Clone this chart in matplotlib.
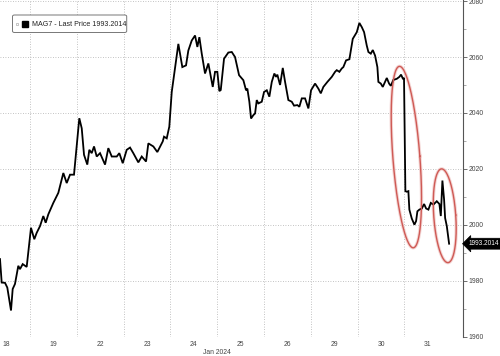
import numpy as np
import matplotlib
matplotlib.use("Agg")
import matplotlib.pyplot as plt
from matplotlib.patches import FancyBboxPatch

plt.rcParams["font.family"] = ["Liberation Sans", "DejaVu Sans"]

# ---- data (x = position in trading sessions, 0 = Jan 18 session start) ----
t = [0.359, 0.395, 0.466, 0.515, 0.594, 0.630, 0.679, 0.750, 0.786, 0.844, 0.929,
     1.021, 1.092, 1.143, 1.214, 1.284, 1.335, 1.391, 1.498, 1.605, 1.712, 1.784, 1.855, 1.940,
     2.053, 2.105, 2.154, 2.224, 2.267, 2.318, 2.368, 2.425, 2.496, 2.603, 2.673, 2.746, 2.853, 2.908, 2.981,
     3.066, 3.137, 3.207, 3.314, 3.387, 3.479, 3.528, 3.635, 3.720, 3.836, 3.863, 3.921, 3.976,
     4.028, 4.169, 4.254, 4.333, 4.382, 4.455, 4.526, 4.575, 4.618, 4.669, 4.739, 4.810, 4.904, 4.953,
     5.002, 5.045, 5.075, 5.145, 5.237, 5.310, 5.380, 5.466, 5.558, 5.615, 5.643, 5.686, 5.722, 5.771,
     5.808, 5.844, 5.878, 5.951, 6.000, 6.058, 6.113, 6.165, 6.220, 6.256, 6.284, 6.342, 6.400, 6.449,
     6.519, 6.592, 6.641, 6.712, 6.754, 6.806, 6.876, 6.947, 7.004, 7.090, 7.160, 7.212, 7.267, 7.353,
     7.447, 7.517, 7.553, 7.609, 7.660, 7.694, 7.752, 7.823, 7.895, 7.981, 8.036, 8.088, 8.137, 8.194,
     8.229, 8.280, 8.323, 8.372, 8.421, 8.442, 8.494, 8.536, 8.585, 8.622, 8.671, 8.707, 8.763, 8.835,
     8.891, 8.927, 8.964, 8.990, 9.005, 9.019, 9.049, 9.083, 9.104, 9.156, 9.212, 9.248, 9.276, 9.318,
     9.370, 9.419, 9.462, 9.511, 9.562, 9.618, 9.690, 9.746, 9.776, 9.810, 9.846, 9.868, 9.904, 9.953]
price = [1987.7, 1979.3, 1979.2, 1977.5, 1969.3, 1977.0, 1978.8, 1985.3, 1984.1, 1985.9, 1984.9,
         1998.9, 1994.8, 1997.1, 1999.5, 2003.1, 2000.7, 2003.7, 2007.8, 2011.4, 2018.5, 2014.9, 2017.9, 2017.9,
         2038.1, 2034.5, 2025.0, 2021.5, 2026.8, 2025.6, 2028.0, 2024.4, 2025.6, 2021.5, 2027.4, 2024.4, 2024.4, 2025.6, 2022.0,
         2026.8, 2027.6, 2025.6, 2022.3, 2024.4, 2022.6, 2029.1, 2028.0, 2026.0, 2029.8, 2031.5, 2030.9, 2035.1,
         2047.5, 2064.7, 2056.4, 2057.0, 2062.3, 2065.9, 2067.7, 2063.6, 2067.1, 2061.2, 2054.1, 2057.7, 2049.3, 2054.7,
         2054.7, 2047.8, 2048.2, 2059.4, 2061.6, 2061.8, 2060.0, 2053.5, 2051.7, 2048.1, 2048.7, 2044.0, 2038.0, 2039.2,
         2039.8, 2044.6, 2043.4, 2044.0, 2047.5, 2048.1, 2045.8, 2051.1, 2054.1, 2052.9, 2053.7, 2050.0, 2056.1, 2051.1,
         2044.6, 2044.0, 2042.6, 2042.8, 2042.2, 2045.2, 2045.2, 2041.6, 2048.1, 2050.5, 2048.7, 2047.0, 2049.3, 2051.1,
         2052.9, 2054.7, 2055.3, 2054.7, 2055.9, 2056.4, 2058.8, 2059.2, 2066.5, 2068.9, 2072.2, 2070.7, 2068.9, 2064.1,
         2061.8, 2061.2, 2062.5, 2060.5, 2056.4, 2051.1, 2050.5, 2049.3, 2051.1, 2052.5, 2050.5, 2049.7, 2051.8, 2052.2,
         2052.9, 2053.7, 2052.3, 2052.5, 2030.0, 2012.0, 2011.8, 2012.0, 2005.4, 2002.2, 2000.0, 2001.3, 2004.8, 2005.4,
         2005.8, 2007.4, 2005.8, 2005.4, 2007.8, 2007.2, 2008.4, 2007.4, 2003.1, 2015.8, 2009.0, 2002.4, 1999.5, 1993.2014]

day_labels = ["18", "19", "22", "23", "24", "25", "26", "29", "30", "31"]
y_ticks = [1960, 1980, 2000, 2020, 2040, 2060, 2080]
last_price = 1993.2014
series_name = "MAG7 - Last Price 1993.2014"
month_label = "Jan 2024"

# ---- figure ----
W, H = 500, 356
fig = plt.figure(figsize=(W / 100, H / 100), dpi=100)
ax_left, ax_right, ax_bottom, ax_top = 0.0, 463 / W, 1 - 336.5 / H, 1.0
ax = fig.add_axes([ax_left, ax_bottom, ax_right - ax_left, ax_top - ax_bottom])

ax.plot(t, price, color="black", lw=1.3, solid_joinstyle="miter", zorder=3)

ax.set_xlim(0.359, 10.25)
ax.set_ylim(1960, 2080.4)

grid_col = "#b0b0b0"
ls = (0, (1, 2))
for b in range(1, len(day_labels)):
    ax.axvline(b, color=grid_col, lw=0.6, ls=ls, zorder=1)
for yv in y_ticks:
    ax.axhline(yv, color=grid_col, lw=0.6, ls=ls, zorder=1)

for s in ["left", "top", "bottom"]:
    ax.spines[s].set_visible(False)
ax.spines["right"].set_color("#555555")
ax.spines["right"].set_linewidth(0.8)

ax.yaxis.tick_right()
ax.set_yticks(y_ticks)
ax.set_yticks(np.arange(1970, 2080, 20), minor=True)
ax.tick_params(axis="y", which="major", length=3, width=0.6, color="#555555",
               labelsize=4.9, labelcolor="#444444", pad=1)
ax.tick_params(axis="y", which="minor", length=2, width=0.5, color="#888888")

ax.set_xticks(np.arange(1, len(day_labels)))
ax.set_xticklabels([])
ax.set_xticks(np.arange(len(day_labels)) + 0.5, minor=True)
ax.set_xticklabels(day_labels, minor=True)
ax.tick_params(axis="x", which="major", length=0)
ax.tick_params(axis="x", which="minor", length=0, labelsize=4.9, labelcolor="#444444", pad=3)

fig.text(217 / W, 1 - 352 / H, month_label, ha="center", va="center",
         fontsize=4.9, color="#444444")

# legend box (pixel geometry -> figure fraction)
bx0, bx1, by0, by1 = 12.5, 126.7, 15.0, 32.5
fig.patches.append(FancyBboxPatch((bx0 / W, 1 - by1 / H), (bx1 - bx0) / W, (by1 - by0) / H,
                                  boxstyle="round,pad=0,rounding_size=0.004",
                                  transform=fig.transFigure, fc="white", ec="#777777",
                                  lw=0.7, zorder=5))
cy = 1 - 24 / H
fig.text(31.5 / W, cy, series_name, fontsize=5.15, color="#222222", va="center", ha="left", zorder=6)
fig.lines.append(plt.Line2D([24.7 / W], [cy], marker="s", ms=4.2, color="black",
                            transform=fig.transFigure, zorder=6))
fig.lines.append(plt.Line2D([17 / W], [cy], marker="s", ms=1.5, mfc="none", mec="#999999",
                            mew=0.4, transform=fig.transFigure, zorder=6))

# last price tag
ax.annotate(f"{last_price:.4f}", xy=(1.0, last_price), xycoords=("axes fraction", "data"),
            xytext=(4, 0), textcoords="offset points", fontsize=4.7, color="white",
            va="center", ha="left", annotation_clip=False,
            bbox=dict(boxstyle="larrow,pad=0.3", fc="black", ec="black", lw=0.5))

# red ellipses (drawn in pixel space, converted to data units)
px_per_day = 463 / (10.25 - 0.359)
px_per_unit = (336.5) / (2080.4 - 1960)

def ellipse(cx, cy, a, b, tilt_deg):
    th = np.linspace(0, 2 * np.pi, 200)
    ang = np.deg2rad(tilt_deg)
    xp = a * np.cos(th)
    yp = b * np.sin(th)
    xr = xp * np.cos(ang) - yp * np.sin(ang)
    yr = xp * np.sin(ang) + yp * np.cos(ang)
    return cx + xr / px_per_day, cy + yr / px_per_unit

for (cx, cy_, a, b, tilt) in [(9.04, 2024.2, 13.5, 91, 4.4), (9.86, 2003.2, 11, 47, 4.0)]:
    ex, ey = ellipse(cx, cy_, a, b, tilt)
    ax.plot(ex, ey, color="#efc4c2", lw=2.4, alpha=0.7, zorder=2)
    ax.plot(ex, ey, color="#cf5a55", lw=1.0, zorder=4)

fig.savefig("out.png", dpi=100)
